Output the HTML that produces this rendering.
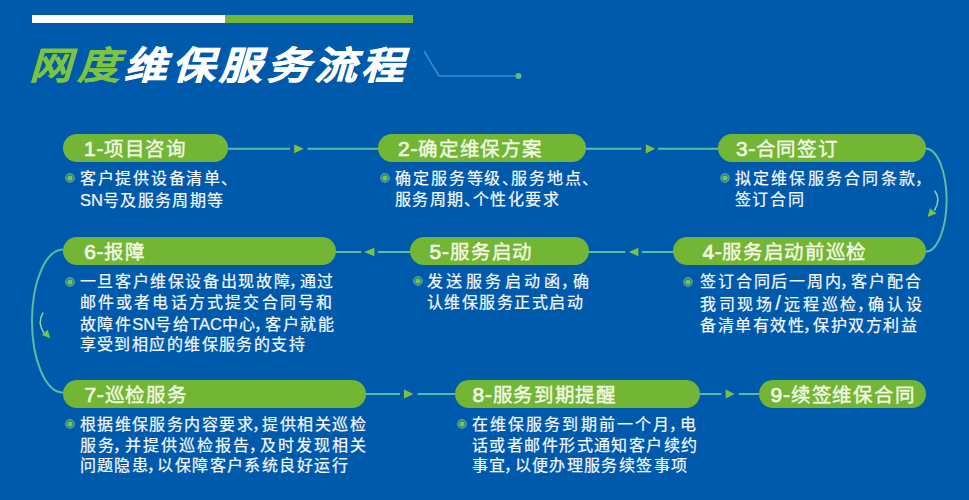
<!DOCTYPE html>
<html lang="zh-CN">
<head>
<meta charset="utf-8">
<style>
html,body{margin:0;padding:0}
body{width:969px;height:500px;overflow:hidden;background:#005aab;position:relative;font-family:"Liberation Sans",sans-serif}
.bar{position:absolute;top:15.2px;height:8.3px}
.tt{position:absolute;top:41px;font-size:38px;font-weight:700;line-height:50px;white-space:nowrap;transform:skewX(-16.5deg) scaleX(1.12);transform-origin:0 100%}
.tt.g{color:#7dc241;-webkit-text-stroke:0.2px #7dc241}
.tt.w{color:#fff;-webkit-text-stroke:0.8px #fff}
.pill{position:absolute;height:28px;border-radius:14px;background:#73b535;color:#f1fbe3;font-size:19.5px;line-height:28px;white-space:nowrap;-webkit-text-stroke:0.4px #f1fbe3}
.n{font-weight:normal;font-size:21px;-webkit-text-stroke:0.7px #f1fbe3}
.pill span{position:absolute;top:1.4px}
.txt{position:absolute;color:#f4f8ff;font-size:16px;line-height:20.7px;white-space:nowrap;-webkit-text-stroke:0.22px #f4f8ff}
.txt div{letter-spacing:var(--ls)}
.c{font-style:normal;display:inline-block;width:calc(6.65px + var(--ls));letter-spacing:0;text-indent:-2.5px}
.s{font-style:normal;display:inline-block;width:calc(7px + var(--ls));letter-spacing:0;text-align:left;text-indent:0.5px;font-size:20px;line-height:1}
.c.d{text-indent:-0.5px}
.l{font-weight:normal;letter-spacing:0;font-size:16.5px}
.dot{position:absolute}
svg{position:absolute;left:0;top:0}
</style>
</head>
<body>
<div class="bar" style="left:32px;width:193px;background:#fff"></div>
<div class="bar" style="left:225px;width:188px;background:#74b638"></div>
<div class="tt g" style="left:25.15px">网</div>
<div class="tt g" style="left:73.35px">度</div>
<div class="tt w" style="left:119.95px">维</div>
<div class="tt w" style="left:167.75px">保</div>
<div class="tt w" style="left:214.55px">服</div>
<div class="tt w" style="left:263.3px">务</div>
<div class="tt w" style="left:310px">流</div>
<div class="tt w" style="left:356.6px">程</div>
<svg width="969" height="500" viewBox="0 0 969 500">
  <!-- title deco -->
  <polyline points="424,51 439,76 516,76" fill="none" stroke="#3d8ad0" stroke-width="1.5"/>
  <circle cx="518.5" cy="76" r="3" fill="#5fb98a"/>
  <!-- row1 connectors -->
  <g stroke="#5fbaa3" stroke-width="2" fill="none">
    <line x1="227" y1="148.8" x2="290" y2="148.8"/>
    <line x1="307.5" y1="148.8" x2="379" y2="148.8"/>
    <line x1="585" y1="148.8" x2="641.3" y2="148.8"/>
    <line x1="658" y1="148.8" x2="719" y2="148.8"/>
    <!-- row2 -->
    <line x1="336" y1="252" x2="361.2" y2="252"/>
    <line x1="378" y1="252" x2="411" y2="252"/>
    <line x1="588" y1="252" x2="625.2" y2="252"/>
    <line x1="642" y1="252" x2="674" y2="252"/>
    <!-- row3 -->
    <line x1="366" y1="394" x2="400" y2="394"/>
    <line x1="417.5" y1="394" x2="456" y2="394"/>
    <line x1="699" y1="394" x2="721.3" y2="394"/>
    <line x1="738.8" y1="394" x2="760" y2="394"/>
    <!-- right big curve -->
    <path d="M925.6,148.6 A21,51.5 0 0 1 925.6,251.6"/>
    <!-- left big curve -->
    <path d="M63,249.5 A31,71.5 0 0 0 63,392.5"/>
  </g>
  <g stroke="#8ed3a8" stroke-width="1.5" fill="none">
    <path d="M934.8,190.8 Q941.2,200 934.4,210.5"/>
    <path d="M43.2,312.6 Q36.8,322 44.2,333.5"/>
  </g>
  <g fill="#7cc242">
    <polygon points="294.2,144.4 303.8,148.8 294.2,153.2"/>
    <polygon points="645.8,144.2 655.2,148.8 645.8,153.4"/>
    <polygon points="638.4,247.8 628.8,252 638.4,256.2"/>
    <polygon points="374.4,247.8 364.2,252 374.4,256.2"/>
    <polygon points="404,389.5 413.6,394 404,398.5"/>
    <polygon points="725.6,389.5 734.7,394 725.6,398.5"/>
    <polygon points="927.6,217 930,208.2 936.5,213.5"/>
    <polygon points="50.4,338.2 42,335 47.6,329.8"/>
  </g>
</svg>
<div class="pill" style="left:63px;top:134px;width:164.8px"><span style="left:21.10px;letter-spacing:0.640px"><b class="n">1-</b>项目咨询</span></div>
<div class="pill" style="left:378px;top:134px;width:208px"><span style="left:20.00px;letter-spacing:0.757px"><b class="n">2-</b>确定维保方案</span></div>
<div class="pill" style="left:718px;top:134px;width:208px"><span style="left:18.00px;letter-spacing:0.600px"><b class="n">3-</b>合同签订</span></div>
<div class="pill" style="left:673px;top:237px;width:253px"><span style="left:29.50px;letter-spacing:0.632px"><b class="n">4-</b>服务启动前巡检</span></div>
<div class="pill" style="left:410px;top:237px;width:178.6px"><span style="left:19.40px;letter-spacing:0.860px"><b class="n">5-</b>服务启动</span></div>
<div class="pill" style="left:63px;top:237px;width:273px"><span style="left:21.20px;letter-spacing:0.634px"><b class="n">6-</b>报障</span></div>
<div class="pill" style="left:63px;top:379.5px;width:303.4px"><span style="left:21.40px;letter-spacing:0.720px"><b class="n">7-</b>巡检服务</span></div>
<div class="pill" style="left:455px;top:379.5px;width:244.6px"><span style="left:17.40px;letter-spacing:0.713px"><b class="n">8-</b>服务到期提醒</span></div>
<div class="pill" style="left:759px;top:379.5px;width:166.5px"><span style="left:11.60px;letter-spacing:0.757px"><b class="n">9-</b>续签维保合同</span></div>
<svg class="dot" style="left:64.3px;top:172.1px" width="12" height="12" viewBox="0 0 12 12"><circle cx="6" cy="6" r="4.2" fill="#2a7d5e" stroke="#6eaeb2" stroke-width="1.1"/><circle cx="6" cy="6" r="2.6" fill="#6cc85c"/></svg>
<div class="txt" style="left:80px;top:169.3px"><div style="--ls:1.725px">客户提供设备清单<i class="c d">、</i></div><div style="--ls:1.352px"><b class="l">SN</b>号及服务周期等</div></div>
<svg class="dot" style="left:378.8px;top:172.2px" width="12" height="12" viewBox="0 0 12 12"><circle cx="6" cy="6" r="4.2" fill="#2a7d5e" stroke="#6eaeb2" stroke-width="1.1"/><circle cx="6" cy="6" r="2.6" fill="#6cc85c"/></svg>
<div class="txt" style="left:395px;top:169.3px"><div style="--ls:1.894px">确定服务等级<i class="c d">、</i>服务地点<i class="c d">、</i></div><div style="--ls:1.461px">服务周期<i class="c d">、</i>个性化要求</div></div>
<svg class="dot" style="left:718.8px;top:172.2px" width="12" height="12" viewBox="0 0 12 12"><circle cx="6" cy="6" r="4.2" fill="#2a7d5e" stroke="#6eaeb2" stroke-width="1.1"/><circle cx="6" cy="6" r="2.6" fill="#6cc85c"/></svg>
<div class="txt" style="left:734.5px;top:169.3px"><div style="--ls:2.250px">拟定维保服务合同条款<i class="c">，</i></div><div style="--ls:1.684px">签订合同</div></div>
<svg class="dot" style="left:682.2px;top:275.5px" width="12" height="12" viewBox="0 0 12 12"><circle cx="6" cy="6" r="4.2" fill="#2a7d5e" stroke="#6eaeb2" stroke-width="1.1"/><circle cx="6" cy="6" r="2.6" fill="#6cc85c"/></svg>
<div class="txt" style="left:700px;top:272.3px"><div style="--ls:1.850px">签订合同后一周内<i class="c">，</i>客户配合</div><div style="--ls:2.683px">我司现场<i class="s">/</i>远程巡检<i class="c">，</i>确认设</div><div style="--ls:1.517px">备清单有效性<i class="c">，</i>保护双方利益</div></div>
<svg class="dot" style="left:411.5px;top:275.2px" width="12" height="12" viewBox="0 0 12 12"><circle cx="6" cy="6" r="4.2" fill="#2a7d5e" stroke="#6eaeb2" stroke-width="1.1"/><circle cx="6" cy="6" r="2.6" fill="#6cc85c"/></svg>
<div class="txt" style="left:427px;top:272.3px"><div style="--ls:3.475px">发送服务启动函<i class="c">，</i>确</div><div style="--ls:1.475px">认维保服务正式启动</div></div>
<svg class="dot" style="left:63.8px;top:275.5px" width="12" height="12" viewBox="0 0 12 12"><circle cx="6" cy="6" r="4.2" fill="#2a7d5e" stroke="#6eaeb2" stroke-width="1.1"/><circle cx="6" cy="6" r="2.6" fill="#6cc85c"/></svg>
<div class="txt" style="left:79.6px;top:272.3px"><div style="--ls:1.639px">一旦客户维保设备出现故障<i class="c">，</i>通过</div><div style="--ls:2.197px">邮件或者电话方式提交合同号和</div><div style="--ls:1.507px">故障件<b class="l">SN</b>号给<b class="l">TAC</b>中心<i class="c">，</i>客户就能</div><div style="--ls:1.430px">享受到相应的维保服务的支持</div></div>
<svg class="dot" style="left:64px;top:417.6px" width="12" height="12" viewBox="0 0 12 12"><circle cx="6" cy="6" r="4.2" fill="#2a7d5e" stroke="#6eaeb2" stroke-width="1.1"/><circle cx="6" cy="6" r="2.6" fill="#6cc85c"/></svg>
<div class="txt" style="left:79.6px;top:414.8px"><div style="--ls:1.467px">根据维保服务内容要求<i class="c">，</i>提供相关巡检</div><div style="--ls:2.092px">服务<i class="c">，</i>并提供巡检报告<i class="c">，</i>及时发现相关</div><div style="--ls:1.420px">问题隐患<i class="c">，</i>以保障客户系统良好运行</div></div>
<svg class="dot" style="left:456px;top:418px" width="12" height="12" viewBox="0 0 12 12"><circle cx="6" cy="6" r="4.2" fill="#2a7d5e" stroke="#6eaeb2" stroke-width="1.1"/><circle cx="6" cy="6" r="2.6" fill="#6cc85c"/></svg>
<div class="txt" style="left:472px;top:414.8px"><div style="--ls:2.100px">在维保服务到期前一个月<i class="c">，</i>电</div><div style="--ls:1.433px">话或者邮件形式通知客户续约</div><div style="--ls:1.352px">事宜<i class="c">，</i>以便办理服务续签事项</div></div>
</body>
</html>
